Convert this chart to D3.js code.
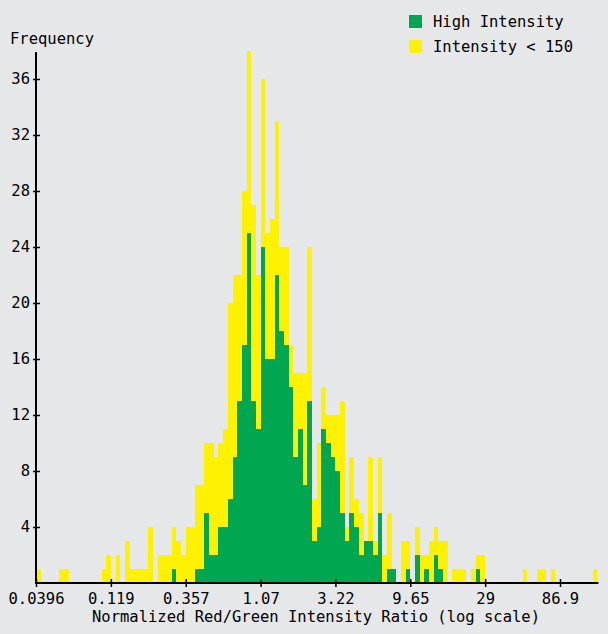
<!DOCTYPE html>
<html lang="en">
<head>
<meta charset="utf-8" />
<title>Ratio histogram</title>
<script src="https://d3js.org/d3.v7.min.js"></script>
<style>
    body { margin: 0; background: #e6e7e9; }
    text { font-family: 'DejaVu Sans Mono', monospace; font-size: 15.5px; fill: #000; }
    .bar { shape-rendering: crispEdges; }
</style>
</head>
<body>
<div id="chart"></div>
<script>
    // tick labels of the log axis (one label every 16 bins)
    var tickLabels = ["0.0396", "0.119", "0.357", "1.07", "3.22", "9.65", "29", "86.9"];
    var yTicks = [4, 8, 12, 16, 20, 24, 28, 32, 36];
    var binsPerTick = 16;
    var binCount = 120;

    // total count per bin (top of yellow bar)
    var total = [
        1, 0, 0, 0, 0, 1, 1, 0, 0, 0,
        0, 0, 0, 0, 1, 2, 0, 2, 0, 3,
        1, 1, 1, 1, 4, 0, 2, 2, 2, 4,
        3, 2, 4, 4, 7, 7, 10, 10, 9, 10,
        11, 20, 22, 22, 28, 38, 27, 22, 36, 25,
        26, 33, 24, 24, 17, 15, 15, 15, 24, 6,
        10, 14, 12, 12, 12, 13, 4, 9, 6, 5,
        3, 9, 3, 9, 2, 5, 1, 0, 3, 3,
        0, 4, 2, 2, 3, 4, 3, 3, 0, 1,
        1, 1, 0, 1, 2, 2, 0, 0, 0, 0,
        0, 0, 0, 0, 1, 0, 0, 1, 1, 0,
        1, 0, 0, 0, 0, 0, 0, 0, 0, 1
    ];
    // high intensity count per bin (green bar)
    var high = [
        0, 0, 0, 0, 0, 0, 0, 0, 0, 0,
        0, 0, 0, 0, 0, 0, 0, 0, 0, 0,
        0, 0, 0, 0, 0, 0, 0, 0, 0, 1,
        0, 0, 0, 0, 1, 1, 5, 2, 2, 4,
        4, 6, 9, 13, 17, 25, 13, 11, 24, 16,
        16, 22, 18, 17, 14, 9, 11, 7, 13, 3,
        4, 11, 10, 9, 8, 5, 3, 5, 4, 2,
        3, 3, 2, 5, 0, 1, 1, 0, 0, 1,
        0, 2, 0, 1, 0, 2, 1, 0, 0, 0,
        0, 0, 0, 0, 1, 0, 0, 0, 0, 0,
        0, 0, 0, 0, 0, 0, 0, 0, 0, 0,
        0, 0, 0, 0, 0, 0, 0, 0, 0, 0
    ];
    var legendLabels = ["High Intensity", "Intensity < 150"];
    var colors = ["#00a650", "#fff200"];

    var width = 608, height = 634;
    var left = 36, bottom = 583;

    var svg = d3.select("#chart")
        .append("svg")
        .attr("width", width)
        .attr("height", height);

    var first = +tickLabels[0];
    var last = +tickLabels[tickLabels.length - 1];
    var steps = (tickLabels.length - 1) * binsPerTick;

    var x = d3.scaleLog()
        .domain([first, last])
        .range([left, left + 74.86 * (tickLabels.length - 1)]);

    var y = d3.scaleLinear()
        .domain([0, 36])
        .range([bottom, 79]);

    // bin edges on the log axis
    function edge(i) {
        return first * Math.pow(last / first, i / steps);
    }

    var bins = d3.range(binCount).map(function (i) {
        return { i: i, lo: edge(i), hi: edge(i + 1), total: total[i], high: high[i] };
    });

    function drawBars(key, color) {
        svg.append("g").selectAll("rect")
            .data(bins.filter(function (d) { return d[key] > 0; }))
            .enter().append("rect")
            .attr("class", "bar")
            .attr("x", function (d) { return Math.round(x(d.lo)); })
            .attr("width", function (d) { return Math.round(x(d.hi)) - Math.round(x(d.lo)); })
            .attr("y", function (d) { return Math.round(y(d[key])); })
            .attr("height", function (d) { return Math.round(y(0)) - Math.round(y(d[key])); })
            .attr("fill", color);
    }
    drawBars("total", colors[1]);
    drawBars("high", colors[0]);

    // y axis
    var yAxis = d3.axisLeft(y)
        .tickValues(yTicks)
        .tickSize(4)
        .tickPadding(2);
    var gy = svg.append("g")
        .attr("transform", "translate(" + left + ",0)")
        .call(yAxis);
    gy.select(".domain").remove();
    gy.selectAll(".tick line").attr("x1", -3).attr("x2", 4).attr("stroke-width", 1.5);
    gy.selectAll(".tick text").style("font-family", "'DejaVu Sans Mono', monospace").style("font-size", "15.5px");
    svg.append("line")
        .attr("x1", left).attr("x2", left)
        .attr("y1", 52).attr("y2", bottom + 1)
        .attr("stroke", "#000").attr("stroke-width", 2);

    // x axis
    var xAxis = d3.axisBottom(x)
        .tickValues(tickLabels.map(function (t, k) { return edge(k * binsPerTick); }))
        .tickFormat(function (d, k) { return tickLabels[k]; })
        .tickSize(4)
        .tickPadding(6);
    var gx = svg.append("g")
        .attr("transform", "translate(0," + bottom + ")")
        .call(xAxis);
    gx.select(".domain").remove();
    gx.selectAll(".tick line").attr("y1", -4).attr("y2", 4).attr("stroke-width", 1.5);
    gx.selectAll(".tick text").style("font-family", "'DejaVu Sans Mono', monospace").style("font-size", "15.5px");
    svg.append("line")
        .attr("x1", left).attr("x2", x(edge(binCount)) + 1)
        .attr("y1", bottom).attr("y2", bottom)
        .attr("stroke", "#000").attr("stroke-width", 2);

    svg.append("text")
        .attr("x", 10).attr("y", 44)
        .text("Frequency");

    svg.append("text")
        .attr("x", 316).attr("y", 622)
        .attr("text-anchor", "middle")
        .text("Normalized Red/Green Intensity Ratio (log scale)");

    // legend
    var legend = svg.append("g").selectAll("g")
        .data(legendLabels)
        .enter().append("g")
        .attr("transform", function (d, i) { return "translate(409," + (15 + i * 25) + ")"; });
    legend.append("rect")
        .attr("width", 13).attr("height", 13)
        .attr("fill", function (d, i) { return colors[i]; });
    legend.append("text")
        .attr("x", 24).attr("y", 12)
        .text(function (d) { return d; });
</script>
</body>
</html>
